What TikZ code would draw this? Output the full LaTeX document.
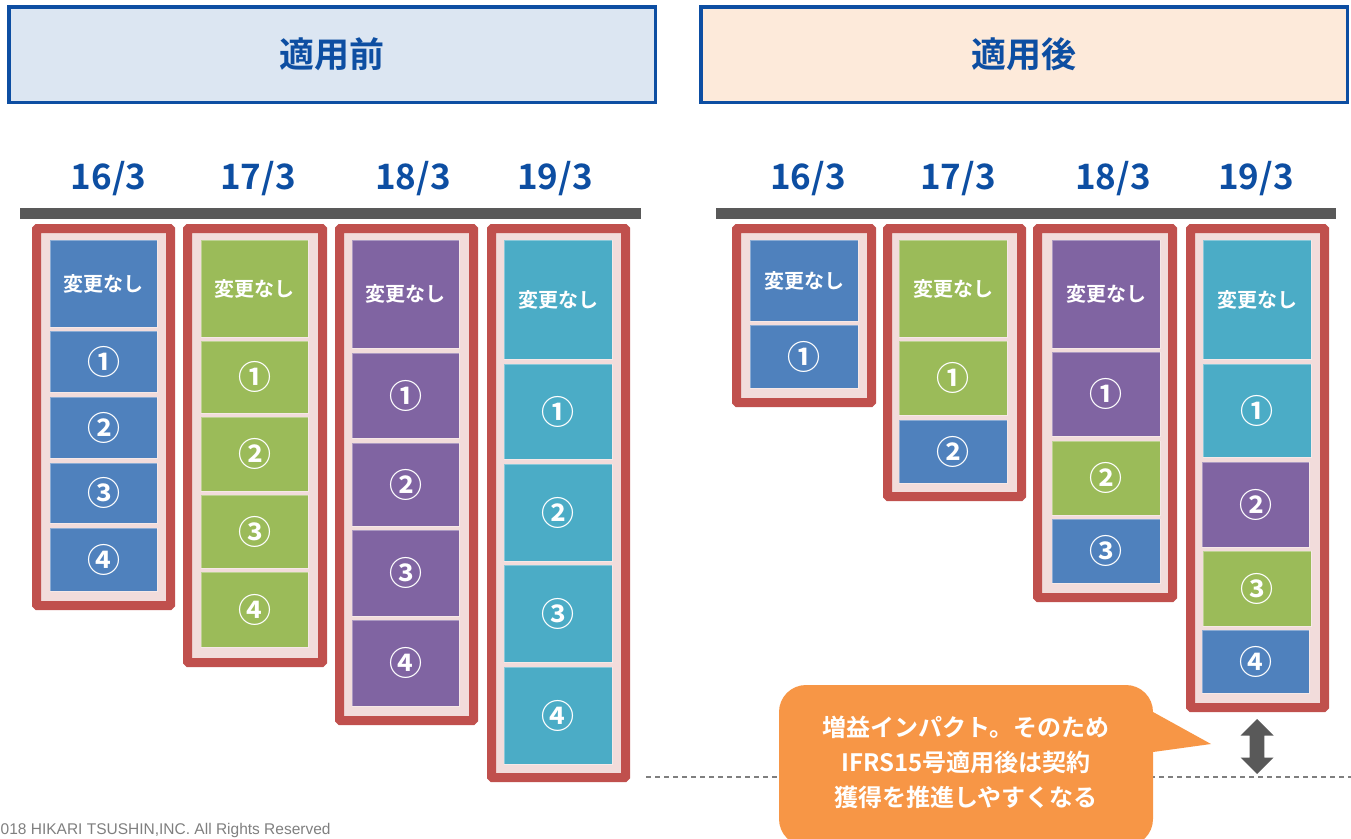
\documentclass[tikz,border=0pt]{standalone}
\usepackage{fontspec}
\usetikzlibrary{shapes.arrows}
\newfontfamily\jp{Noto Sans CJK JP}[BoldFont={Noto Sans CJK JP Bold}]
\newfontfamily\footfont{Liberation Sans}
\definecolor{cBlue}{HTML}{4F81BD}
\definecolor{cGreen}{HTML}{9BBB59}
\definecolor{cPurple}{HTML}{8064A2}
\definecolor{cTeal}{HTML}{4BACC6}
\definecolor{cRed}{HTML}{C0504D}
\definecolor{cPink}{HTML}{F2DCDB}
\definecolor{cOrange}{HTML}{F79646}
\definecolor{cNavy}{HTML}{0D4EA2}
\definecolor{cHdrL}{HTML}{DCE6F2}
\definecolor{cHdrR}{HTML}{FDEADA}
\definecolor{cBar}{HTML}{595959}
\definecolor{cFoot}{HTML}{7F7F7F}
\newcommand\blk[7]{\node[blk,fill=#2,minimum width={(#4)-(#3)},minimum height={(#6)-(#5)}] (#1) at ({((#3)+(#4))/2},{((#5)+(#6))/2}) {#7};}
\newcommand\frm[5]{\node[frm,minimum width={(#3)-(#2)-9},minimum height={(#5)-(#4)-9}] (#1) at ({((#2)+(#3))/2},{((#4)+(#5))/2}) {};}
\newcommand\cn[1]{{\jp\bfseries\fontsize{33}{34}\selectfont #1}}
\begin{document}
\begin{tikzpicture}[x=1pt,y=-1pt,
  blk/.style={inner sep=0,outer sep=0,draw=white,draw opacity=0.35,line width=0.8pt,text=white,font=\jp\bfseries\fontsize{20}{22}\selectfont},
  frm/.style={inner sep=0,outer sep=0,draw=cRed,fill=cPink,line width=9pt,rounded corners=1pt},
  hdr/.style={inner sep=0,outer sep=0,draw=cNavy,line width=3.5pt,text=cNavy,font=\jp\bfseries\fontsize{35}{38}\selectfont},
  date/.style={text=cNavy,font=\jp\bfseries\fontsize{35}{38}\selectfont},
  bar/.style={inner sep=0,outer sep=0,fill=cBar,minimum height=11},
  dline/.style={draw=cFoot,line width=1.1pt,dash pattern=on 5pt off 4pt},
]
\useasboundingbox (0,0) rectangle (1351,838);
% headers
\node[hdr,fill=cHdrL,minimum width=646.5,minimum height=95.5] (hL) at (332,54.5) {適用前};
\node[hdr,fill=cHdrR,minimum width=646.5,minimum height=95.5] (hR) at (1024,54.5) {適用後};
% dates
\node[date] (dL1) at (108.5,179) {16/3};
\node[date] (dL2) at (258,179) {17/3};
\node[date] (dL3) at (413,179) {18/3};
\node[date] (dL4) at (555,179) {19/3};
\node[date] (dR1) at (808,179) {16/3};
\node[date] (dR2) at (958,179) {17/3};
\node[date] (dR3) at (1113,179) {18/3};
\node[date] (dR4) at (1256,179) {19/3};
% bars
\node[bar,minimum width=621] (barL) at (330.5,213.5) {};
\node[bar,minimum width=620] (barR) at (1026,213.5) {};
% dashed line
\coordinate (dl) at (646,777);
\coordinate (dr) at (1351,777);
\draw[dline] (dl) -- (dr);
% ---------- left frames
\frm{fL1}{32}{175}{224}{610}
\frm{fL2}{183}{327}{224}{667}
\frm{fL3}{335}{478}{224}{725}
\frm{fL4}{487}{630}{224}{782}
% left col 1
\blk{a10}{cBlue}{50}{157}{240}{327}{変更なし}
\blk{a11}{cBlue}{50}{157}{331}{392}{\cn{①}}
\blk{a12}{cBlue}{50}{157}{397}{458}{\cn{②}}
\blk{a13}{cBlue}{50}{157}{463}{523}{\cn{③}}
\blk{a14}{cBlue}{50}{157}{528}{591}{\cn{④}}
% left col 2
\blk{b10}{cGreen}{201}{308}{240}{337}{変更なし}
\blk{b11}{cGreen}{201}{308}{341}{413}{\cn{①}}
\blk{b12}{cGreen}{201}{308}{417}{491}{\cn{②}}
\blk{b13}{cGreen}{201}{308}{495}{568}{\cn{③}}
\blk{b14}{cGreen}{201}{308}{572}{647}{\cn{④}}
% left col 3
\blk{c10}{cPurple}{352}{459}{240}{348}{変更なし}
\blk{c11}{cPurple}{352}{459}{353}{438}{\cn{①}}
\blk{c12}{cPurple}{352}{459}{443}{526}{\cn{②}}
\blk{c13}{cPurple}{352}{459}{530}{616}{\cn{③}}
\blk{c14}{cPurple}{352}{459}{620}{706}{\cn{④}}
% left col 4
\blk{d10}{cTeal}{504}{612}{240}{359}{変更なし}
\blk{d11}{cTeal}{504}{612}{364}{459}{\cn{①}}
\blk{d12}{cTeal}{504}{612}{464}{561}{\cn{②}}
\blk{d13}{cTeal}{504}{612}{565}{662}{\cn{③}}
\blk{d14}{cTeal}{504}{612}{667}{764}{\cn{④}}
% ---------- right frames
\frm{fR1}{732}{876}{224}{407}
\frm{fR2}{883}{1026}{224}{501}
\frm{fR3}{1033}{1177}{224}{602}
\frm{fR4}{1186}{1329}{224}{712}
% right col 1
\blk{e10}{cBlue}{750}{858}{240}{321}{変更なし}
\blk{e11}{cBlue}{750}{858}{325}{388}{\cn{①}}
% right col 2
\blk{g10}{cGreen}{899}{1007}{240}{337}{変更なし}
\blk{g11}{cGreen}{899}{1007}{341}{415}{\cn{①}}
\blk{g12}{cBlue}{899}{1007}{420}{483}{\cn{②}}
% right col 3
\blk{h10}{cPurple}{1052}{1160}{240}{348}{変更なし}
\blk{h11}{cPurple}{1052}{1160}{352}{436}{\cn{①}}
\blk{h12}{cGreen}{1052}{1160}{441}{515}{\cn{②}}
\blk{h13}{cBlue}{1052}{1160}{519}{583}{\cn{③}}
% right col 4
\blk{k10}{cTeal}{1203}{1311}{240}{359}{変更なし}
\blk{k11}{cTeal}{1203}{1311}{364}{457}{\cn{①}}
\blk{k12}{cPurple}{1202}{1309}{462}{547}{\cn{②}}
\blk{k13}{cGreen}{1203}{1311}{551}{626}{\cn{③}}
\blk{k14}{cBlue}{1202}{1309}{630}{693}{\cn{④}}
% double arrow
\node[double arrow,fill=cBar,draw=none,rotate=90,minimum height=55,minimum width=33,inner sep=5.5pt] (dbl) at (1257,746.5) {};
% callout
\node[fill=cOrange,rounded corners=27pt,minimum width=374,minimum height=161,inner sep=0] (cbody) at (966,765.5) {};
\fill[cOrange] (1140,704.8) -- (1211,744) -- (1140,753.8) -- cycle;
\node[text=white,align=center,font=\jp\bfseries\fontsize{24}{35}\selectfont] (ctext) at (966,762) {増益インパクト。そのため\\IFRS15号適用後は契約\\獲得を推進しやすくなる};
% footer
\node[anchor=base west,inner sep=0,text=cFoot,font=\footfont\fontsize{15.5}{18}\selectfont] (foot) at (0.5,834) {018 HIKARI TSUSHIN,INC. All Rights Reserved};
\end{tikzpicture}
\end{document}
